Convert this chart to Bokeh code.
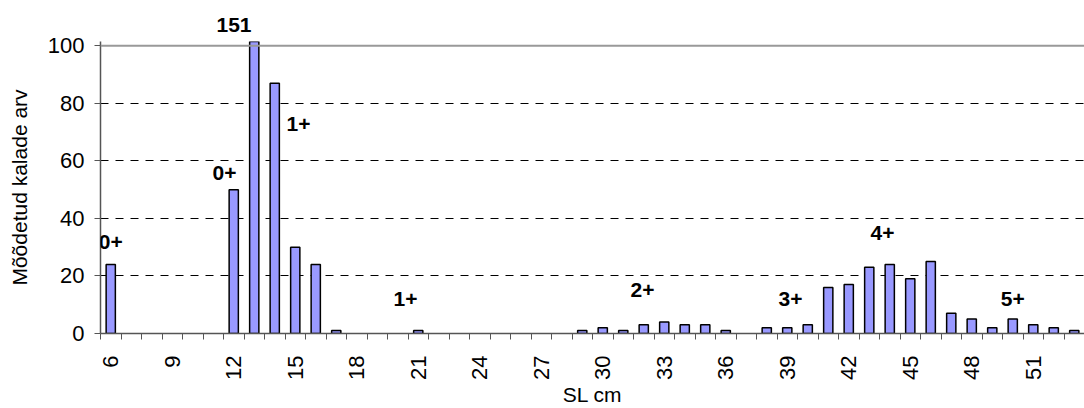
import math
from bokeh.plotting import figure
from bokeh.models import FixedTicker, Range1d, Label, Span, Title, ColumnDataSource
from bokeh.embed import file_html
from bokeh.resources import INLINE

# Categories: SL cm
lengths = list(range(6, 54))
counts = [24, 0, 0, 0, 0, 0, 50, 151, 87, 30, 24, 1, 0, 0, 0, 1, 0, 0, 0, 0,
          0, 0, 0, 1, 2, 1, 3, 4, 3, 3, 1, 0, 2, 2, 3, 16, 17, 23, 24, 19,
          25, 7, 5, 2, 5, 3, 2, 1]
tick_labels = list(range(6, 52, 3))
y_ticks = [0, 20, 40, 60, 80, 100]

# Age-group annotations
label_text = ["0+", "0+", "1+", "1+", "2+", "3+", "4+", "5+"]
label_x = [6.0, 11.55, 15.16, 20.38, 31.94, 39.16, 43.65, 50.0]
label_y = [31.7, 55.7, 72.7, 11.9, 15.0, 11.9, 34.8, 11.9]
peak_label = "151"
x_title = "SL cm"
y_title = "Mõõdetud kalade arv"

FONT = "Liberation Sans"
FS = "21px"
TFS = "22px"

p = figure(width=1084, height=408, output_backend="svg", toolbar_location=None,
           x_range=Range1d(5.5, 53.5), y_range=Range1d(0, 101.5),
           min_border_left=100, min_border_right=0, min_border_top=41,
           min_border_bottom=75)
p.outline_line_color = None
p.background_fill_color = "white"
p.border_fill_color = "white"

nz = [(x, c) for x, c in zip(lengths, counts) if c > 0]
src = ColumnDataSource(data=dict(x=[a for a, _ in nz], top=[b for _, b in nz]))
p.vbar(x="x", top="top", width=0.45, bottom=0, source=src,
       fill_color="#9999FF", line_color="black", line_width=1.5)

# Grid
p.xgrid.visible = False
p.ygrid.ticker = FixedTicker(ticks=[20, 40, 60, 80])
p.ygrid.grid_line_color = "black"
p.ygrid.grid_line_dash = "8 7"
p.ygrid.grid_line_width = 1
p.add_layout(Span(location=100, dimension="width", line_color="#999999", line_width=2))

# Y axis
p.yaxis.ticker = FixedTicker(ticks=y_ticks)
p.yaxis.axis_label = y_title
p.yaxis.axis_label_text_font = FONT
p.yaxis.axis_label_text_font_style = "normal"
p.yaxis.axis_label_text_font_size = FS
p.yaxis.axis_label_text_color = "black"
p.yaxis.axis_label_standoff = 14
p.yaxis.major_label_text_font = FONT
p.yaxis.major_label_text_font_size = TFS
p.yaxis.major_label_text_color = "black"
p.yaxis.major_tick_out = 6
p.yaxis.major_tick_in = 0
p.yaxis.minor_tick_out = 0
p.yaxis.minor_tick_in = 0
p.yaxis.major_label_standoff = 10
p.yaxis.axis_line_color = "#555555"
p.yaxis.axis_line_width = 1.5
p.yaxis.major_tick_line_color = "#555555"

# X axis
minor = [x - 0.5 for x in lengths] + [lengths[-1] + 0.5]
p.xaxis.ticker = FixedTicker(ticks=tick_labels, minor_ticks=minor)
p.xaxis.axis_label = x_title
p.xaxis.axis_label_text_font = FONT
p.xaxis.axis_label_text_font_style = "normal"
p.xaxis.axis_label_text_font_size = FS
p.xaxis.axis_label_text_color = "black"
p.xaxis.axis_label_standoff = 0
p.xaxis.major_label_text_font = FONT
p.xaxis.major_label_text_font_size = TFS
p.xaxis.major_label_text_color = "black"
p.xaxis.major_label_orientation = math.pi / 2
p.xaxis.major_tick_out = 0
p.xaxis.major_tick_in = 0
p.xaxis.minor_tick_out = 6
p.xaxis.minor_tick_in = 0
p.xaxis.minor_tick_line_color = "#555555"
p.xaxis.major_label_standoff = 16
p.xaxis.axis_line_color = "#555555"
p.xaxis.axis_line_width = 1.5

for t, x, y in zip(label_text, label_x, label_y):
    p.add_layout(Label(x=x, y=y, text=t, text_font=FONT, text_font_style="bold",
                       text_font_size=FS, text_align="center",
                       text_baseline="middle", text_color="black"))

p.add_layout(Title(text=peak_label, align="left", offset=116, standoff=19,
                   text_font=FONT, text_font_style="bold", text_font_size=FS,
                   text_color="black"), "above")

open("out.html", "w").write(file_html(p, INLINE))
